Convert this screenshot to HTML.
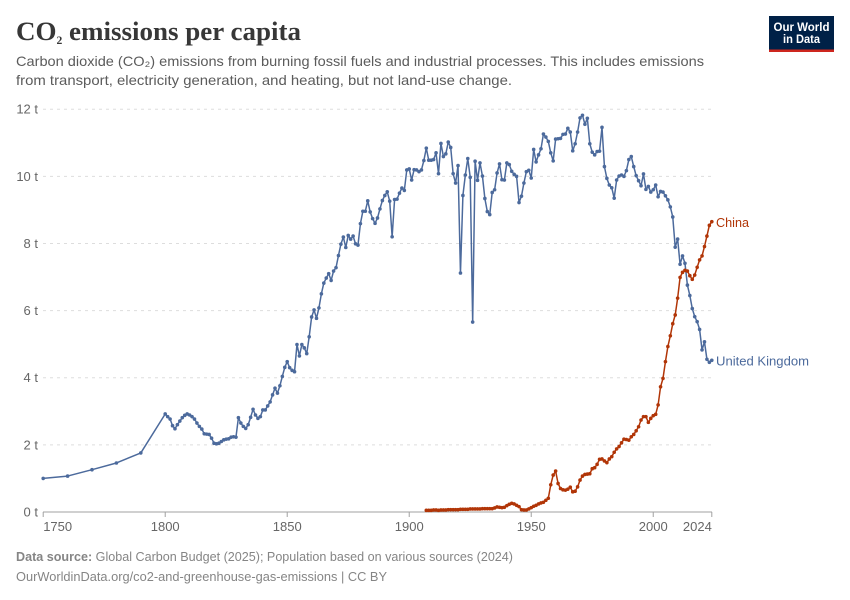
<!DOCTYPE html>
<html lang="en">
<head>
<meta charset="utf-8">
<title>CO₂ emissions per capita</title>
<style>
  html, body { margin: 0; padding: 0; background: #fff; }
  svg { display: block; font-family: "Liberation Sans", sans-serif; }
</style>
</head>
<body>
<svg id="chart" xmlns="http://www.w3.org/2000/svg" width="850" height="600" viewBox="0 0 850 600">
  <rect width="850" height="600" fill="#ffffff"/>
  <text x="16" y="40" font-family="'Liberation Serif', serif" font-weight="700" font-size="26.5" fill="#373737" textLength="285" lengthAdjust="spacingAndGlyphs">CO<tspan font-size="19" dy="0">₂</tspan> emissions per capita</text>
  <text x="16" y="66" font-size="14" fill="#5b5b5b" textLength="688" lengthAdjust="spacingAndGlyphs">Carbon dioxide (CO₂) emissions from burning fossil fuels and industrial processes. This includes emissions</text>
  <text x="16" y="85" font-size="14" fill="#5b5b5b" textLength="496" lengthAdjust="spacingAndGlyphs">from transport, electricity generation, and heating, but not land-use change.</text>

  <g>
    <rect x="769" y="16" width="65" height="36" fill="#002147"/>
    <rect x="769" y="49.5" width="65" height="2.5" fill="#ce261e"/>
    <text x="801.5" y="31" text-anchor="middle" font-size="12" font-weight="700" fill="#ffffff" textLength="56" lengthAdjust="spacingAndGlyphs">Our World</text>
    <text x="801.5" y="43" text-anchor="middle" font-size="12" font-weight="700" fill="#ffffff" textLength="37" lengthAdjust="spacingAndGlyphs">in Data</text>
  </g>

  <g id="grid"></g>
  <g id="y-labels"></g>
  <g id="x-axis"></g>
  <g id="series"></g>

  <text x="716" y="227" font-size="13" fill="#b13507" textLength="33" lengthAdjust="spacingAndGlyphs">China</text>
  <text x="716" y="365.500" font-size="13" fill="#4c6a9c" textLength="93" lengthAdjust="spacingAndGlyphs">United Kingdom</text>

  <text x="16" y="561" font-size="13" fill="#858585" textLength="497" lengthAdjust="spacingAndGlyphs"><tspan font-weight="700">Data source:</tspan> Global Carbon Budget (2025); Population based on various sources (2024)</text>
  <a><text x="16" y="581" font-size="13" fill="#858585" textLength="371" lengthAdjust="spacingAndGlyphs">OurWorldinData.org/co2-and-greenhouse-gas-emissions | CC BY</text></a>
</svg>

<script>
const yTicks = [0, 2, 4, 6, 8, 10, 12];
const yTickLabels = ["0 t", "2 t", "4 t", "6 t", "8 t", "10 t", "12 t"];
const xTicks = [1750, 1800, 1850, 1900, 1950, 2000, 2024];
const xTickLabels = ["1750", "1800", "1850", "1900", "1950", "2000", "2024"];

const ukSparseYears = [1750, 1760, 1770, 1780, 1790];
const ukSparseValues = [1.0, 1.07, 1.26, 1.46, 1.76];
const ukAnnualStartYear = 1800;
const ukAnnualValues = [
  2.92,2.84,2.77,2.57,2.48,2.6,2.71,2.81,2.88,2.92,
  2.89,2.84,2.77,2.65,2.55,2.47,2.33,2.32,2.31,2.2,
  2.05,2.03,2.05,2.1,2.15,2.17,2.18,2.23,2.24,2.23,
  2.81,2.65,2.55,2.49,2.6,2.82,3.06,2.89,2.79,2.84,
  3.04,3.04,3.16,3.28,3.49,3.69,3.54,3.76,4.04,4.31,
  4.48,4.3,4.22,4.18,4.99,4.65,4.99,4.89,4.72,5.22,
  5.81,6.02,5.77,6.08,6.5,6.82,6.97,7.1,6.9,7.18,
  7.28,7.64,7.98,8.19,7.88,8.24,8.13,8.22,7.99,7.95,
  8.59,8.96,8.96,9.27,8.94,8.74,8.6,8.76,9.03,9.28,
  9.43,9.54,9.26,8.2,9.31,9.32,9.5,9.65,9.58,10.19,
  10.22,9.89,10.2,10.19,10.14,10.19,10.47,10.84,10.48,10.48,
  10.5,10.7,10.08,10.98,10.59,10.67,11.02,10.86,10.08,9.8,
  10.32,7.12,9.43,10.04,10.53,9.97,5.66,10.45,9.88,10.4,
  10.01,9.34,8.95,8.86,9.52,9.6,10.1,10.37,9.9,9.89,
  10.4,10.35,10.15,10.06,10,9.22,9.41,9.8,10.14,10.18,
  9.95,10.8,10.43,10.64,10.82,11.26,11.17,11.04,10.7,10.46,
  11.11,11.12,11.13,11.25,11.26,11.43,11.32,10.76,10.97,11.32,
  11.74,11.82,11.55,11.73,10.97,10.72,10.64,10.74,10.75,11.46,
  10.29,9.94,9.74,9.66,9.35,9.89,10.01,10.04,10,10.17,
  10.5,10.59,10.29,10.02,9.87,9.72,10.07,9.61,9.7,9.53,
  9.6,9.74,9.39,9.55,9.53,9.42,9.3,9.09,8.79,7.89,
  8.13,7.38,7.63,7.41,6.76,6.45,6.06,5.82,5.67,5.44,
  4.83,5.07,4.55,4.46,4.52
];

const chinaStartYear = 1907;
const chinaValues = [
  .05,.05,.05,
  .06,.06,.05,.06,.06,.06,.07,.07,.07,.07,
  .07,.08,.08,.08,.08,.09,.09,.09,.09,.09,
  .1,.1,.1,.1,.1,.12,.15,.14,.13,.14,
  .19,.23,.26,.24,.2,.16,.07,.06,.06,.09,
  .13,.17,.2,.24,.27,.29,.35,.41,.81,1.1,
  1.22,.85,.7,.66,.65,.68,.74,.6,.62,.75,
  .95,1.07,1.12,1.13,1.14,1.29,1.32,1.42,1.57,1.58,
  1.52,1.47,1.58,1.65,1.78,1.88,1.95,2.06,2.17,2.16,
  2.14,2.24,2.31,2.42,2.54,2.74,2.84,2.84,2.67,2.79,
  2.87,2.91,3.19,3.73,3.98,4.48,4.93,5.25,5.61,5.87,
  6.37,6.99,7.14,7.2,7.18,7.04,6.93,7.06,7.29,7.51,
  7.63,7.91,8.22,8.54,8.65
];

const SVG_NS = "http://www.w3.org/2000/svg";
const xScale = (year) => 43.2 + (year - 1750) * (711.8 - 43.2) / (2024 - 1750);
const yScale = (value) => 512 - value * (512 - 109.2) / 12;

function make(tag, attrs, parent) {
  const el = document.createElementNS(SVG_NS, tag);
  for (const key in attrs) el.setAttribute(key, attrs[key]);
  parent.appendChild(el);
  return el;
}

const gridLayer = document.getElementById("grid");
const yLabelLayer = document.getElementById("y-labels");
yTicks.forEach((tick, i) => {
  if (tick !== 0) {
    const line = make("line", { x1: 43, x2: 712, y1: yScale(tick), y2: yScale(tick), stroke: "#dddddd", "stroke-width": 1, "stroke-dasharray": "3,4" }, gridLayer);
    
    
  }
  const label = make("text", { x: 38, y: yScale(tick) + 4.5, "text-anchor": "end", "font-size": 13, fill: "#666666" }, yLabelLayer);
  
  
  label.textContent = yTickLabels[i];
});

const xAxisLayer = document.getElementById("x-axis");
const axisLine = make("line", { x1: 43, x2: 712, y1: 512, y2: 512, stroke: "#a1a1a1", "stroke-width": 1 }, xAxisLayer);


xTicks.forEach((tick, i) => {
  const px = xScale(tick);
  const mark = make("line", { x1: px, x2: px, y1: 512, y2: 517, stroke: "#a1a1a1", "stroke-width": 1 }, xAxisLayer);
  
  
  const anchor = i === 0 ? "start" : (i === xTicks.length - 1 ? "end" : "middle");
  const label = make("text", { x: px, y: 531, "text-anchor": anchor, "font-size": 13, fill: "#666666" }, xAxisLayer);
  
  
  label.textContent = xTickLabels[i];
});

function drawSeries(years, values, color, name) {
  const layer = document.getElementById("series");
  const group = make("g", { fill: color, stroke: "none" }, layer);
  
  
  const points = years.map((year, i) => xScale(year).toFixed(2) + "," + yScale(values[i]).toFixed(2)).join(" ");
  const line = make("polyline", { points: points, fill: "none", stroke: color, "stroke-width": 1.5, "stroke-linejoin": "round" }, group);
  
  
  years.forEach((year, i) => {
    const dot = make("circle", { cx: xScale(year), cy: yScale(values[i]), r: 1.8 }, group);
    
    
  });
}

const ukYears = ukSparseYears.concat(ukAnnualValues.map((_, i) => ukAnnualStartYear + i));
const ukValues = ukSparseValues.concat(ukAnnualValues);
const chinaYears = chinaValues.map((_, i) => chinaStartYear + i);

drawSeries(ukYears, ukValues, "#4c6a9c", "united-kingdom-series");
drawSeries(chinaYears, chinaValues, "#b13507", "china-series");
</script>
</body>
</html>
